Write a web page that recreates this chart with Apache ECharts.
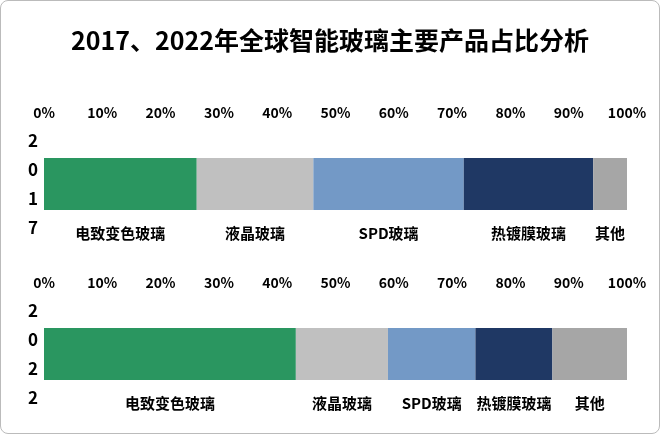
<!DOCTYPE html>
<html><head><meta charset="utf-8">
<script src="https://cdn.jsdelivr.net/npm/echarts@6/dist/echarts.min.js"></script>
<style>html,body{margin:0;background:#fff}#c{width:660px;height:434px;box-sizing:border-box;border:1px solid #bbb;border-radius:8px}</style>
</head><body><div id="c"></div>
<script>
const years = ['2017', '2022'];
const products = ['电致变色玻璃', '液晶玻璃', 'SPD玻璃', '热镀膜玻璃', '其他'];
const share2017 = [26.2, 20, 25.8, 22.2, 5.8];
const share2022 = [43.2, 15.8, 15, 13.2, 12.8];
const colors = ['#2a9660', '#c0c0c0', '#7399c6', '#1f3864', '#a6a6a6'];

const chart = echarts.init(document.getElementById('c'));
const font = '"Noto Sans CJK SC", sans-serif';
const tops = [157, 327];
const grids = tops.map(t => ({ left: 43, right: 32, top: t, height: 52 }));
const xAxis = grids.map((g, i) => ({
    gridIndex: i, type: 'value', min: 0, max: 100, interval: 10, position: 'top',
    axisLine: { show: false }, axisTick: { show: false }, splitLine: { show: false },
    axisLabel: { formatter: '{value}%', fontWeight: 'bold', fontSize: 14, color: '#000', fontFamily: font, margin: 38 }
}));
const yAxis = years.map((y, i) => ({
    gridIndex: i, type: 'category', data: [y.split('').join('\n')],
    axisLine: { show: false }, axisTick: { show: false },
    axisLabel: { fontWeight: 'bold', fontSize: 17, color: '#000', lineHeight: 29, margin: 6, fontFamily: font }
}));
const series = [];
[share2017, share2022].forEach((vals, gi) => {
    vals.forEach((v, k) => {
        series.push({
            type: 'bar', stack: 's' + gi, xAxisIndex: gi, yAxisIndex: gi,
            barWidth: 52, data: [v], itemStyle: { color: colors[k] },
            label: {
                show: true, position: 'bottom', distance: 16, formatter: products[k],
                color: '#000', fontSize: 15, fontWeight: 'bold', fontFamily: font
            }
        });
    });
});
chart.setOption({
    animation: false,
    title: { text: '2017、2022年全球智能玻璃主要产品占比分析', left: 'center', top: 22,
        textStyle: { fontSize: 25, fontWeight: 'bold', color: '#000', fontFamily: font } },
    grid: grids, xAxis, yAxis, series
});
</script></body></html>
